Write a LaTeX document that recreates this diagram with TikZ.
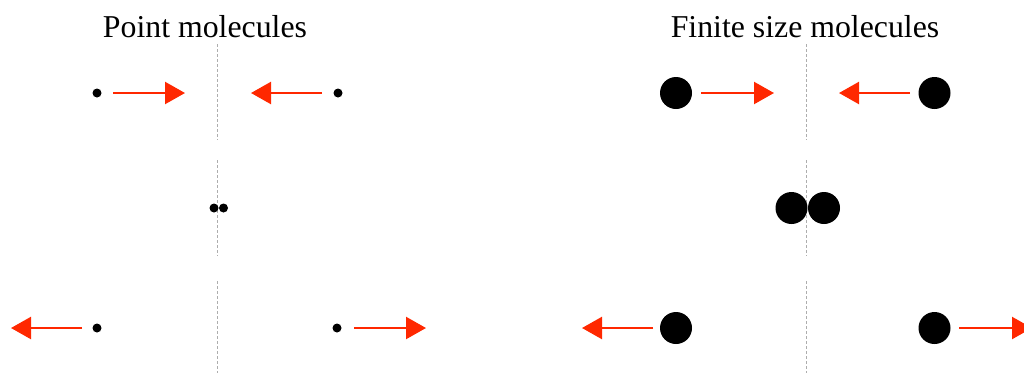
\documentclass[tikz,border=0pt]{standalone}
\usepackage{fontspec}
\setmainfont{Liberation Serif}
\usetikzlibrary{arrows.meta}
\definecolor{arrowred}{RGB}{255,40,0}
\tikzset{
  smalldot/.style={circle,fill=black,inner sep=0pt,minimum size=9pt},
  bigdot/.style={circle,fill=black,inner sep=0pt,minimum size=32pt},
  push/.style={draw=arrowred,line width=2.3pt,-{Triangle[length=20pt,width=22pt]},arrowred},
  axis/.style={draw=black!32,line width=1pt,dash pattern=on 3pt off 2pt},
  title/.style={anchor=base,inner sep=0pt,font=\fontsize{31.8}{36}\selectfont}
}
\begin{document}
\begin{tikzpicture}[x=1pt,y=-1pt]
\useasboundingbox (0,0) rectangle (1024,373);
% titles
\node[title] (t1) at (205,37) {Point molecules};
\node[title] (t2) at (805,37) {Finite size molecules};
% dashed axes
\coordinate (la1) at (217,44);  \coordinate (lb1) at (217,140);
\coordinate (la2) at (217,160); \coordinate (lb2) at (217,256);
\coordinate (la3) at (217,281); \coordinate (lb3) at (217,373);
\coordinate (ra1) at (806,44);  \coordinate (rb1) at (806,140);
\coordinate (ra2) at (806,160); \coordinate (rb2) at (806,256);
\coordinate (ra3) at (806,281); \coordinate (rb3) at (806,373);
\draw[axis] (la1) -- (lb1);
\draw[axis] (la2) -- (lb2);
\draw[axis] (la3) -- (lb3);
\draw[axis] (ra1) -- (rb1);
\draw[axis] (ra2) -- (rb2);
\draw[axis] (ra3) -- (rb3);
% row 1, point molecules
\node[smalldot] (p1l) at (97,93) {};
\node[smalldot] (p1r) at (338,93) {};
\coordinate (p1la) at (113,93); \coordinate (p1lb) at (185,93);
\coordinate (p1ra) at (322,93); \coordinate (p1rb) at (251,93);
\draw[push] (p1la) -- (p1lb);
\draw[push] (p1ra) -- (p1rb);
% row 2, point molecules
\node[smalldot] (p2l) at (214,208) {};
\node[smalldot] (p2r) at (223.5,208) {};
% row 3, point molecules
\node[smalldot] (p3l) at (97,328) {};
\node[smalldot] (p3r) at (337,328) {};
\coordinate (p3la) at (82,328); \coordinate (p3lb) at (11,328);
\coordinate (p3ra) at (354,328); \coordinate (p3rb) at (426,328);
\draw[push] (p3la) -- (p3lb);
\draw[push] (p3ra) -- (p3rb);
% row 1, finite molecules
\node[bigdot] (f1l) at (676,93) {};
\node[bigdot] (f1r) at (934.5,93) {};
\coordinate (f1la) at (701,93); \coordinate (f1lb) at (774,93);
\coordinate (f1ra) at (910,93); \coordinate (f1rb) at (839,93);
\draw[push] (f1la) -- (f1lb);
\draw[push] (f1ra) -- (f1rb);
% row 2, finite molecules
\node[bigdot] (f2l) at (791.5,208) {};
\node[bigdot] (f2r) at (824,208) {};
% row 3, finite molecules
\node[bigdot] (f3l) at (676,328) {};
\node[bigdot] (f3r) at (934.5,328) {};
\coordinate (f3la) at (653,328); \coordinate (f3lb) at (582,328);
\coordinate (f3ra) at (959,328); \coordinate (f3rb) at (1032,328);
\draw[push] (f3la) -- (f3lb);
\draw[push] (f3ra) -- (f3rb);
\end{tikzpicture}
\end{document}
